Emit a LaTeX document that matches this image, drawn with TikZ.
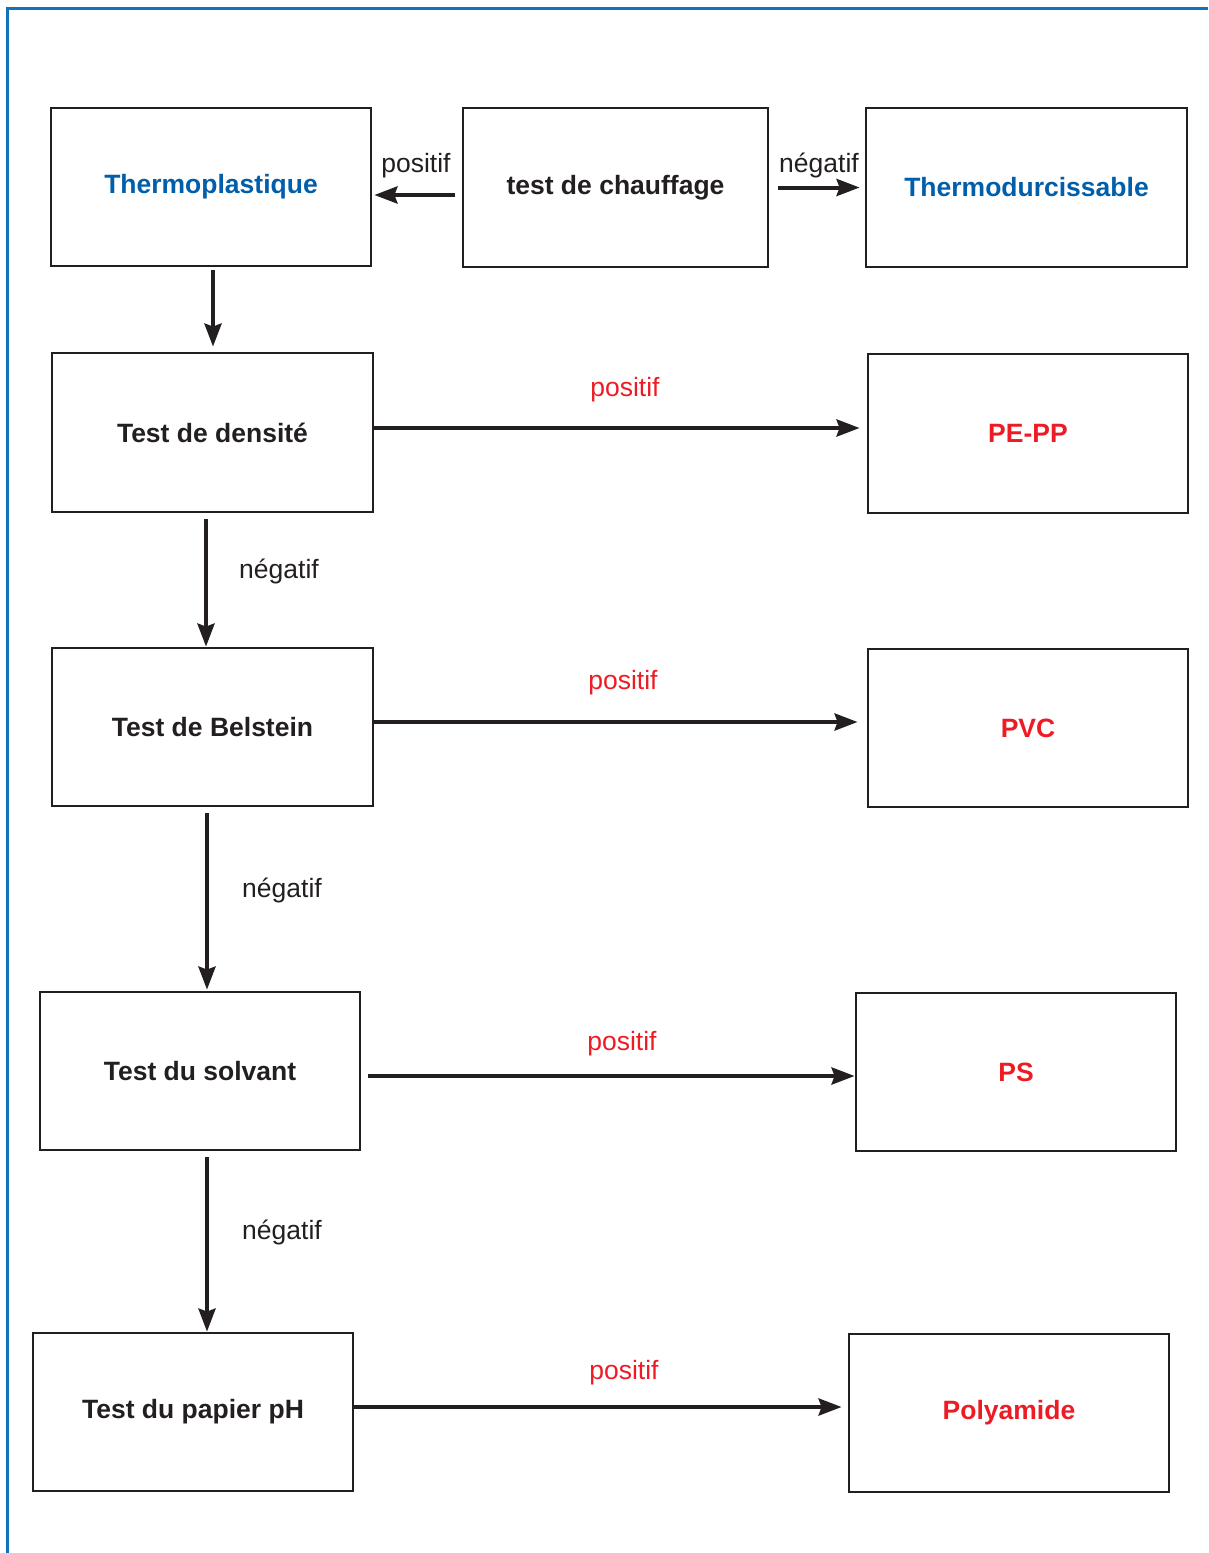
\documentclass[tikz,border=0pt]{standalone}
\usepackage{fontspec}
\setmainfont{Liberation Sans}
\usetikzlibrary{arrows.meta}
\definecolor{frameblue}{RGB}{20,114,186}
\definecolor{txtblue}{RGB}{0,94,170}
\definecolor{txtred}{RGB}{237,28,36}
\definecolor{ink}{RGB}{35,31,32}
\begin{document}
\begin{tikzpicture}[x=1pt,y=-1pt,
  box/.style={draw=ink,line width=2.8pt,minimum width=320pt,minimum height=158pt,inner sep=0pt,font=\fontsize{26.5}{30}\selectfont\bfseries,text=ink},
  bluebox/.style={box,text=txtblue},
  redbox/.style={box,text=txtred},
  arr/.style={draw=ink,line width=4pt,-{Stealth[length=23pt,width=17pt,inset=3pt]}},
  lbl/.style={anchor=base,font=\fontsize{26.5}{30}\selectfont,text=ink,inner sep=0pt},
  rlbl/.style={lbl,text=txtred}]
\useasboundingbox (0,0) rectangle (1208,1553);
\draw[frameblue,line width=3pt] (7,1553) -- (7,8) -- (1208,8);

\node[bluebox] (tpl) at (211,187) {Thermoplastique};
\node[box,minimum width=305pt,minimum height=159pt] (chauf) at (615.5,187.5) {test de chauffage};
\node[bluebox,minimum width=321pt,minimum height=159pt] (tdur) at (1026.5,187.5) {Thermodurcissable};

\node[box,minimum width=321pt,minimum height=159pt] (dens) at (212.5,432.5) {Test de densité};
\node[redbox,minimum height=159pt] (pepp) at (1028,433.5) {PE-PP};

\node[box,minimum width=321pt] (bel) at (212.5,727) {Test de Belstein};
\node[redbox] (pvc) at (1028,728) {PVC};

\node[box] (solv) at (200,1071) {Test du solvant};
\node[redbox] (ps) at (1016,1072) {PS};

\node[box] (ph) at (193,1412) {Test du papier pH};
\node[redbox] (poly) at (1009,1413) {Polyamide};

% top row
\draw[arr] ([xshift=-7pt,yshift=-7.5pt]chauf.west) -- ([xshift=2pt,yshift=-8pt]tpl.east);
\node[lbl] (l1) at (416,172) {positif};
\draw[arr] ([xshift=9pt]chauf.east) -- ([xshift=-5pt]tdur.west);
\node[lbl] (l2) at (819,172) {négatif};

% vertical
\draw[arr] ([xshift=2pt,yshift=-3pt]tpl.south) -- ([xshift=0.5pt,yshift=5pt]dens.north);
\draw[arr] ([xshift=-6.5pt,yshift=-6pt]dens.south) -- ([xshift=-6.5pt,yshift=0pt]bel.north);
\node[lbl] (l3) at (279,578) {négatif};
\draw[arr] ([xshift=-5.5pt,yshift=-6pt]bel.south) -- ([xshift=7pt,yshift=1pt]solv.north);
\node[lbl] (l4) at (282,897) {négatif};
\draw[arr] ([xshift=7pt,yshift=-6pt]solv.south) -- ([xshift=14pt,yshift=0pt]ph.north);
\node[lbl] (l5) at (282,1239) {négatif};

% horizontal
\draw[arr] ([yshift=4.5pt]dens.east) -- ([xshift=-7pt,yshift=5.5pt]pepp.west);
\node[rlbl] (r1) at (625,396) {positif};
\draw[arr] ([yshift=5pt]bel.east) -- ([xshift=-9pt,yshift=6pt]pvc.west);
\node[rlbl] (r2) at (623,689) {positif};
\draw[arr] ([xshift=7pt,yshift=-5pt]solv.east) -- ([xshift=0pt,yshift=-4pt]ps.west);
\node[rlbl] (r3) at (622,1050) {positif};
\draw[arr] ([yshift=5pt]ph.east) -- ([xshift=-6pt,yshift=6pt]poly.west);
\node[rlbl] (r4) at (624,1379) {positif};
\end{tikzpicture}
\end{document}
